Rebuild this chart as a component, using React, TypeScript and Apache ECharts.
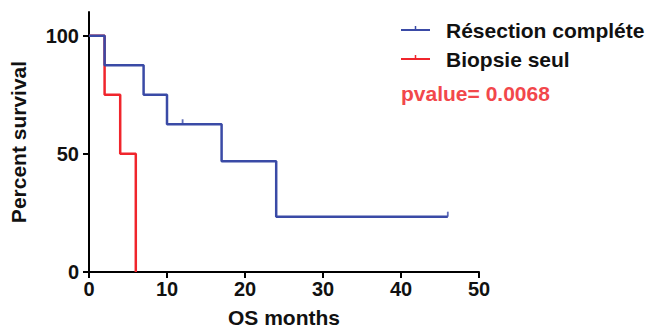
import React, { useEffect, useRef } from "react";
import * as echarts from "echarts";

const blueTimes = [0, 2, 7, 10, 17, 24, 46];
const blueSurv = [100, 87.5, 75, 62.5, 46.9, 23.4, 23.4];
const blueCensorTimes = [12, 46];
const blueCensorSurv = [62.5, 23.4];

const redTimes = [0, 2, 4, 6];
const redSurv = [100, 75, 50, 0];

const xTicks = [0, 10, 20, 30, 40, 50];
const yTicks = [0, 50, 100];

const legendNames = ["Résection compléte", "Biopsie seul"];
const pvalueText = "pvalue= 0.0068";

const BLUE = "#3a4aa6";
const RED = "#f0252c";
const FONT = "'Liberation Sans', Arial, sans-serif";

export default function App() {
  const ref = useRef<HTMLDivElement>(null);
  useEffect(() => {
    if (!ref.current) return;
    const chart = echarts.init(ref.current, null, { renderer: "svg" });
    const zip = (a: number[], b: number[]) => a.map((v, i) => [v, b[i]]);
    const legendItem = (y: number, color: string, text: string) => [
      { type: "line", shape: { x1: 401, y1: y, x2: 430, y2: y }, style: { stroke: color, lineWidth: 2 } },
      { type: "line", shape: { x1: 415.5, y1: y, x2: 415.5, y2: y - 4 }, style: { stroke: color, lineWidth: 1.5 } },
      {
        type: "text",
        x: 446,
        y: y,
        style: { text, fill: "#111", font: `bold 21px ${FONT}`, verticalAlign: "middle" },
      },
    ];
    chart.setOption({
      animation: false,
      grid: { left: 86, right: 185, top: 12, bottom: 62 },
      xAxis: {
        type: "value",
        min: 0,
        max: 50,
        interval: 10,
        name: "OS months",
        nameLocation: "middle",
        nameGap: 35,
        nameTextStyle: { color: "#111", fontSize: 21, fontWeight: "bold", fontFamily: FONT },
        axisLine: { lineStyle: { color: "#000", width: 2 } },
        axisTick: { length: 6, lineStyle: { color: "#000", width: 2 }, customValues: xTicks },
        axisLabel: { color: "#111", fontSize: 20, fontWeight: "bold", fontFamily: FONT, margin: 7, customValues: xTicks },
        splitLine: { show: false },
      },
      yAxis: {
        type: "value",
        min: 0,
        max: 110,
        name: "Percent survival",
        nameLocation: "middle",
        nameGap: 60,
        nameTextStyle: { color: "#111", fontSize: 21, fontWeight: "bold", fontFamily: FONT },
        axisLine: { lineStyle: { color: "#000", width: 2 } },
        axisTick: { length: 6, lineStyle: { color: "#000", width: 2 }, customValues: yTicks },
        axisLabel: { color: "#111", fontSize: 20, fontWeight: "bold", fontFamily: FONT, margin: 10, customValues: yTicks },
        splitLine: { show: false },
      },
      series: [
        {
          type: "line",
          step: "end",
          data: zip(redTimes, redSurv),
          symbol: "none",
          lineStyle: { color: RED, width: 2.5 },
          z: 2,
        },
        {
          type: "line",
          step: "end",
          data: zip(blueTimes, blueSurv),
          symbol: "none",
          lineStyle: { color: BLUE, width: 2.5 },
          z: 3,
        },
        {
          type: "scatter",
          data: zip(blueCensorTimes, blueCensorSurv),
          symbol: "rect",
          symbolSize: [1.8, 5],
          symbolOffset: [0, -2.5],
          itemStyle: { color: BLUE },
          z: 4,
        },
      ],
      graphic: [
        ...legendItem(30, BLUE, legendNames[0]),
        ...legendItem(59, RED, legendNames[1]),
        {
          type: "text",
          x: 401,
          y: 93,
          style: { text: pvalueText, fill: "#f2474b", font: `bold 21px ${FONT}`, verticalAlign: "middle" },
        },
      ],
    });
    return () => chart.dispose();
  }, []);
  return <div ref={ref} style={{ width: 664, height: 334, margin: -8 }} />;
}
